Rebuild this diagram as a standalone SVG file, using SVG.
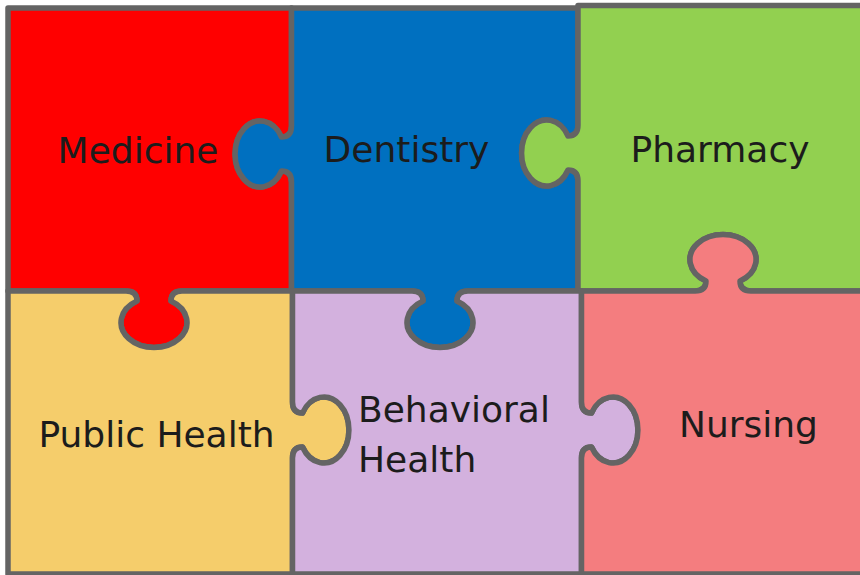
<svg xmlns="http://www.w3.org/2000/svg" width="860" height="575" viewBox="0 0 860 575">
<style>
.pc{stroke:#646464;stroke-width:5.5;stroke-linejoin:round}
.lb{font-family:"DejaVu Sans",Verdana,sans-serif;font-size:36px;fill:#1c1c1c}
.mid{text-anchor:middle}
</style>
<rect width="860" height="575" fill="#ffffff"/>
<g id="medicine">
<path class="pc" fill="#ff0000" d="M 8,8 L 291.5,8 L 291.5,126 Q 291.5,137 281.5,137 A 25 33 0 1 0 281.5,171 Q 291.5,171 291.5,182 L 291.5,291 L 182,291 Q 171,291 171,301 A 33 25 0 1 1 137,301 Q 137,291 126,291 L 8,291 Z"/>
<text class="lb mid" x="138" y="163">Medicine</text>
</g>
<g id="dentistry">
<path class="pc" fill="#0070c0" d="M 291.5,8 L 578,8 L 578,125 Q 578,136 568,136 A 25 33 0 1 0 568,170 Q 578,170 578,181 L 578,291 L 468,291 Q 457,291 457,301 A 33 25 0 1 1 423,301 Q 423,291 412,291 L 291.5,291 L 291.5,182 Q 291.5,171 281.5,171 A 25 33 0 1 1 281.5,137 Q 291.5,137 291.5,126 Z"/>
<text class="lb mid" x="406.5" y="162">Dentistry</text>
</g>
<g id="pharmacy">
<path class="pc" fill="#92d050" d="M 578,5.5 L 870,5.5 L 870,291 L 751,291 Q 740,291 740,281 A 33 25 0 1 0 706,281 Q 706,291 695,291 L 578,291 L 578,181 Q 578,170 568,170 A 25 33 0 1 1 568,136 Q 578,136 578,125 Z"/>
<text class="lb mid" x="720" y="162">Pharmacy</text>
</g>
<g id="public-health">
<path class="pc" fill="#f5cd6b" d="M 8,291 L 126,291 Q 137,291 137,301 A 33 25 0 1 0 171,301 Q 171,291 182,291 L 292.5,291 L 292.5,402 Q 292.5,413 302.5,413 A 25 33 0 1 1 302.5,447 Q 292.5,447 292.5,458 L 292.5,574 L 8,574 Z"/>
<text class="lb mid" x="156.5" y="447">Public Health</text>
</g>
<g id="behavioral-health">
<path class="pc" fill="#d3b1de" d="M 292.5,291 L 412,291 Q 423,291 423,301 A 33 25 0 1 0 457,301 Q 457,291 468,291 L 581.5,291 L 581.5,402 Q 581.5,413 591.5,413 A 25 33 0 1 1 591.5,447 Q 581.5,447 581.5,458 L 581.5,574 L 292.5,574 L 292.5,458 Q 292.5,447 302.5,447 A 25 33 0 1 0 302.5,413 Q 292.5,413 292.5,402 Z"/>
<text class="lb" x="358" y="422">Behavioral</text>
<text class="lb" x="358" y="472">Health</text>
</g>
<g id="nursing">
<path class="pc" fill="#f47d7f" d="M 581.5,291 L 695,291 Q 706,291 706,281 A 33 25 0 1 1 740,281 Q 740,291 751,291 L 870,291 L 870,574 L 581.5,574 L 581.5,458 Q 581.5,447 591.5,447 A 25 33 0 1 0 591.5,413 Q 581.5,413 581.5,402 Z"/>
<text class="lb mid" x="748.5" y="437">Nursing</text>
</g>
<g id="connectors"></g>
</svg>
